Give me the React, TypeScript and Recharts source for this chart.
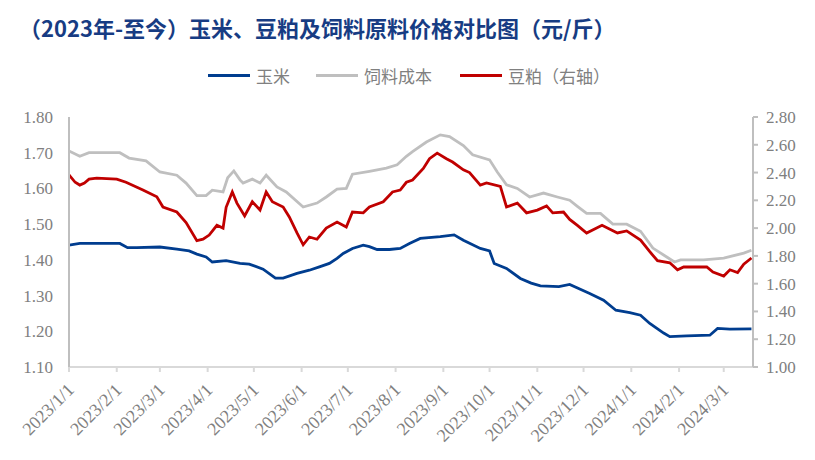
import { LineChart, Line, XAxis, YAxis } from 'recharts';

// x = days since 2023/1/1
const monthTicks = [0, 31, 59, 90, 120, 151, 181, 212, 243, 273, 304, 334, 365, 396, 425];
const monthLabels = [
  '2023/1/1', '2023/2/1', '2023/3/1', '2023/4/1', '2023/5/1', '2023/6/1', '2023/7/1',
  '2023/8/1', '2023/9/1', '2023/10/1', '2023/11/1', '2023/12/1', '2024/1/1', '2024/2/1', '2024/3/1',
];
const leftTicks = [1.1, 1.2, 1.3, 1.4, 1.5, 1.6, 1.7, 1.8];
const rightTicks = [1.0, 1.2, 1.4, 1.6, 1.8, 2.0, 2.2, 2.4, 2.6, 2.8];

// 玉米 (left axis)
const cornPrice: [number, number][] = [
  [0, 1.441], [7, 1.446], [11, 1.446], [33, 1.446], [38, 1.434], [44, 1.434], [59, 1.436],
  [70, 1.43], [78, 1.425], [83, 1.416], [89, 1.408], [93, 1.394], [102, 1.398], [111, 1.39],
  [117, 1.388], [126, 1.374], [134, 1.349], [139, 1.349], [148, 1.362], [156, 1.371],
  [163, 1.381], [169, 1.39], [174, 1.404], [178, 1.418], [184, 1.432], [191, 1.441],
  [195, 1.437], [200, 1.429], [208, 1.429], [215, 1.432], [221, 1.446], [228, 1.46],
  [241, 1.465], [250, 1.47], [256, 1.455], [267, 1.432], [273, 1.425], [276, 1.39],
  [284, 1.376], [293, 1.348], [300, 1.335], [306, 1.327], [318, 1.325], [325, 1.331],
  [338, 1.306], [347, 1.287], [355, 1.259], [364, 1.252], [371, 1.245], [377, 1.222],
  [386, 1.195], [390, 1.185], [401, 1.187], [416, 1.189], [421, 1.208], [429, 1.206], [443, 1.207],
];

// 饲料成本 (left axis)
const feedCost: [number, number][] = [
  [0, 1.705], [7, 1.69], [13, 1.7], [33, 1.7], [39, 1.685], [50, 1.677], [59, 1.646],
  [70, 1.637], [76, 1.615], [83, 1.58], [89, 1.58], [93, 1.595], [100, 1.59], [103, 1.63],
  [107, 1.649], [111, 1.624], [113, 1.615], [119, 1.626], [124, 1.615], [128, 1.637],
  [135, 1.604], [141, 1.59], [152, 1.548], [161, 1.559], [167, 1.576], [174, 1.598],
  [180, 1.6], [184, 1.64], [195, 1.648], [206, 1.657], [213, 1.666], [219, 1.69],
  [223, 1.703], [232, 1.73], [241, 1.75], [247, 1.745], [256, 1.72], [262, 1.694],
  [273, 1.68], [278, 1.646], [284, 1.61], [291, 1.6], [299, 1.576], [308, 1.587],
  [317, 1.576], [325, 1.567], [330, 1.55], [336, 1.53], [345, 1.53], [353, 1.5],
  [362, 1.5], [371, 1.48], [379, 1.433], [388, 1.408], [393, 1.394], [397, 1.4],
  [412, 1.4], [425, 1.405], [438, 1.419], [443, 1.427],
];

// 豆粕 (right axis)
const mealPrice: [number, number][] = [
  [0, 2.383], [4, 2.33], [7, 2.31], [10, 2.325], [13, 2.353], [18, 2.36], [31, 2.353],
  [37, 2.33], [48, 2.274], [57, 2.225], [61, 2.152], [70, 2.116], [76, 2.04], [83, 1.91],
  [87, 1.92], [91, 1.95], [96, 2.02], [100, 2.0], [102, 2.15], [106, 2.26], [109, 2.18],
  [114, 2.087], [119, 2.19], [124, 2.13], [128, 2.26], [132, 2.19], [139, 2.152],
  [143, 2.08], [148, 1.965], [152, 1.88], [156, 1.936], [161, 1.92], [167, 2.0],
  [174, 2.044], [180, 2.008], [184, 2.116], [191, 2.11], [195, 2.152], [204, 2.19],
  [210, 2.26], [215, 2.274], [219, 2.33], [223, 2.346], [230, 2.43], [234, 2.5],
  [239, 2.54], [245, 2.5], [249, 2.476], [256, 2.42], [260, 2.4], [267, 2.31],
  [271, 2.325], [280, 2.3], [284, 2.152], [291, 2.18], [297, 2.11], [304, 2.13],
  [310, 2.16], [314, 2.11], [321, 2.116], [325, 2.063], [330, 2.02], [336, 1.965],
  [346, 2.02], [356, 1.965], [362, 1.98], [371, 1.914], [377, 1.83], [382, 1.765],
  [390, 1.75], [395, 1.7], [399, 1.72], [414, 1.72], [418, 1.684], [425, 1.655],
  [429, 1.7], [434, 1.68], [438, 1.74], [443, 1.785],
];

const toRows = (pts: [number, number][]) => pts.map(([day, value]) => ({ day, value }));

const BLUE = '#003d8f';
const GRAY = '#bfbfbf';
const RED = '#c00000';
const TEXT = '#808080';
const SERIF = '"Liberation Serif", "Times New Roman", serif';
const CJK = '"Noto Sans CJK SC", sans-serif';

const legendItems = [
  { name: '玉米', color: BLUE, x: 208 },
  { name: '饲料成本', color: GRAY, x: 316 },
  { name: '豆粕（右轴）', color: RED, x: 460 },
];

function MonthTick({ x, y, payload }: any) {
  const i = monthTicks.indexOf(payload.value);
  const ax = x + 6;
  const ay = y + 17;
  return (
    <text
      x={ax}
      y={ay}
      transform={`rotate(-45 ${ax} ${ay})`}
      textAnchor="end"
      fill={TEXT}
      fontSize={18}
      fontFamily={SERIF}
    >
      {monthLabels[i]}
    </text>
  );
}

export default function App() {
  return (
    <div style={{ position: 'absolute', left: 0, top: 0, width: 815, height: 460, background: '#fff' }}>
      <div
        style={{
          position: 'absolute',
          left: 19,
          top: 12,
          fontFamily: CJK,
          fontWeight: 700,
          fontSize: 22,
          lineHeight: '30px',
          color: '#173c83',
          whiteSpace: 'nowrap',
        }}
      >
        （2023年-至今）玉米、豆粕及饲料原料价格对比图（元/斤）
      </div>
      {legendItems.map((it) => (
        <div
          key={it.name}
          style={{ position: 'absolute', left: it.x, top: 62, height: 26, display: 'flex', alignItems: 'center' }}
        >
          <span style={{ display: 'inline-block', width: 42, height: 3, background: it.color }} />
          <span style={{ marginLeft: 6, fontFamily: CJK, fontSize: 17, color: TEXT }}>{it.name}</span>
        </div>
      ))}
      <LineChart width={815} height={460} margin={{ top: 117, right: 8, bottom: 8, left: 8 }}>
        <XAxis
          dataKey="day"
          type="number"
          domain={[0, 444]}
          ticks={monthTicks}
          interval={0}
          allowDataOverflow
          height={85}
          stroke="#d9d9d9"
          strokeWidth={2}
          tickSize={5}
          tick={<MonthTick />}
        />
        <YAxis
          yAxisId="left"
          orientation="left"
          width={61}
          domain={[1.1, 1.8]}
          ticks={leftTicks}
          interval={0}
          allowDataOverflow
          stroke={GRAY}
          strokeWidth={2}
          tickLine={false}
          tickMargin={10}
          tickFormatter={(v: number) => v.toFixed(2)}
          tick={{ fill: TEXT, fontSize: 17, fontFamily: SERIF }}
        />
        <YAxis
          yAxisId="right"
          orientation="right"
          width={54}
          domain={[1.0, 2.8]}
          ticks={rightTicks}
          interval={0}
          allowDataOverflow
          stroke={GRAY}
          strokeWidth={2}
          tickSize={5}
          tickMargin={8}
          tickFormatter={(v: number) => v.toFixed(2)}
          tick={{ fill: TEXT, fontSize: 17, fontFamily: SERIF }}
        />
        <Line
          yAxisId="left"
          data={toRows(feedCost)}
          dataKey="value"
          stroke={GRAY}
          strokeWidth={2.8}
          dot={false}
          isAnimationActive={false}
        />
        <Line
          yAxisId="right"
          data={toRows(mealPrice)}
          dataKey="value"
          stroke={RED}
          strokeWidth={2.8}
          dot={false}
          isAnimationActive={false}
        />
        <Line
          yAxisId="left"
          data={toRows(cornPrice)}
          dataKey="value"
          stroke={BLUE}
          strokeWidth={2.8}
          dot={false}
          isAnimationActive={false}
        />
      </LineChart>
    </div>
  );
}
